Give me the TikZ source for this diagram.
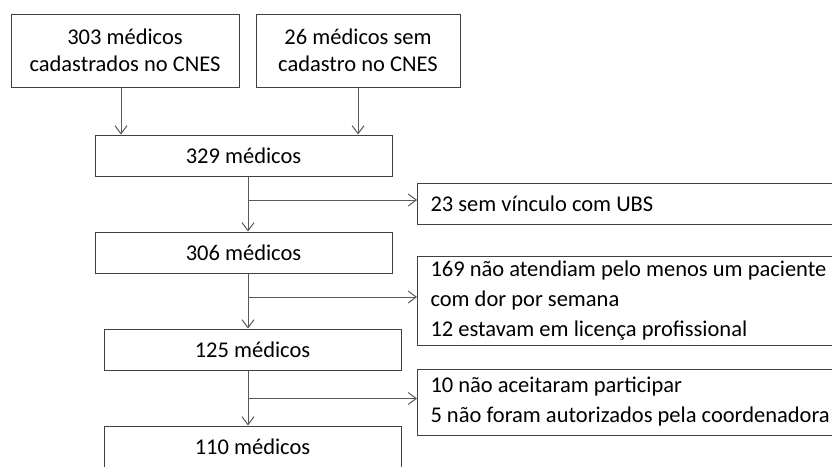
\documentclass[tikz,border=0pt]{standalone}
\usepackage{fontspec}
\setmainfont{Carlito}
\usetikzlibrary{arrows.meta,calc}
\definecolor{boxgray}{RGB}{64,64,64}
\definecolor{linegray}{RGB}{89,89,89}

\begin{document}
\begin{tikzpicture}[x=1pt,y=-1pt,
		box/.style={draw=boxgray,line width=1pt,inner sep=0pt,align=center,font=\fontsize{22.5}{27}\selectfont},
		sidebox/.style={box,anchor=west,align=flush left,text width=470pt,inner xsep=13pt,minimum width=496pt,font=\fontsize{22.5}{30}\selectfont},
		arr/.style={draw=linegray,line width=1pt,-{Straight Barb[length=8pt,width=12pt]}}]
				\useasboundingbox (0,0) rectangle (832,466);
				\clip (0,0) rectangle (832,466);
				\coordinate (trunk) at (248,0);
				\node[box,minimum width=228pt,minimum height=73pt] (cnes) at (125,50.5) {303 médicos\\cadastrados no CNES};
				\node[box,minimum width=204pt,minimum height=73pt] (semcnes) at (358,50.5) {26 médicos sem\\cadastro no CNES};
				\node[box,minimum width=297pt,minimum height=41pt] (m329) at (243.5,155.5) {329 médicos};
				\node[box,minimum width=297pt,minimum height=41pt] (m306) at (243.5,252.5) {306 médicos};
				\node[box,minimum width=297pt,minimum height=41pt] (m125) at (252.5,349.5) {125 médicos};
				\node[box,minimum width=297pt,minimum height=41pt] (m110) at (252.5,446.5) {110 médicos};
				\node[sidebox,minimum height=41pt] (exc1) at (417,203.5) {23 sem vínculo com UBS};
				\node[sidebox,minimum height=89pt] (exc2) at (417,300.5) {169 não atendiam pelo menos um paciente\\com dor por semana\\12 estavam em licença profissional};
				\node[sidebox,minimum height=66pt] (exc3) at (417,402) {10 não aceitaram participar\\5 não foram autorizados pela coordenadora};
				\draw[arr] ([xshift=-4pt]cnes.south) -- ([xshift=-4pt]cnes.south |- m329.north);
				\draw[arr] (semcnes.south) -- (semcnes.south |- m329.north);
				\draw[arr] (trunk |- m329.south) -- (trunk |- m306.north);
				\draw[arr] (trunk |- m306.south) -- (trunk |- m125.north);
				\draw[arr] (trunk |- m125.south) -- (trunk |- m110.north);
				\draw[arr] ($(trunk |- exc1.west)+(0,-3.5)$) -- ($(exc1.west)+(0,-3.5)$);
				\draw[arr] ($(trunk |- exc2.west)+(0,-3.5)$) -- ($(exc2.west)+(0,-3.5)$);
				\draw[arr] ($(trunk |- exc3.west)+(0,-3.5)$) -- ($(exc3.west)+(0,-3.5)$);
			\end{tikzpicture}
\end{document}
